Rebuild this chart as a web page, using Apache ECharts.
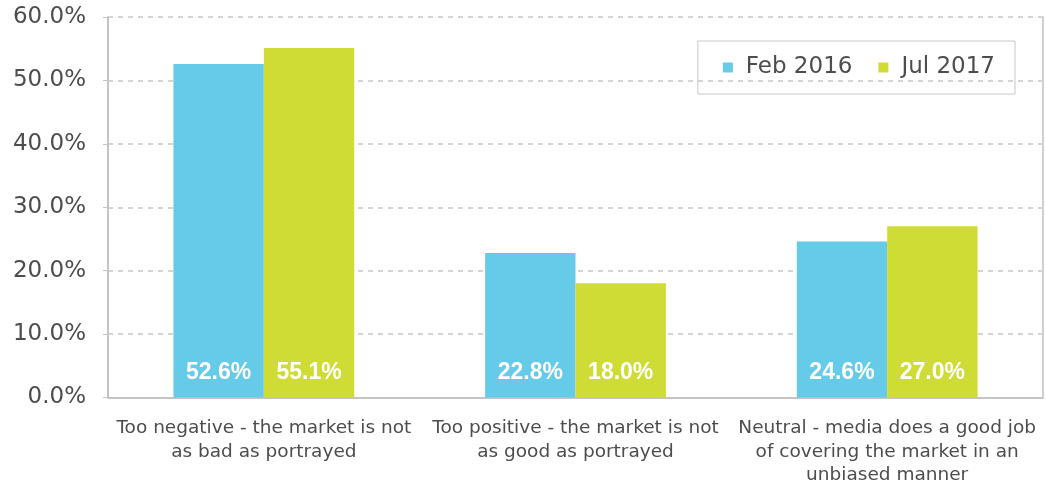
<!DOCTYPE html>
<html>
<head>
<meta charset="utf-8">
<script src="https://cdn.jsdelivr.net/npm/echarts@6/dist/echarts.min.js"></script>
<style>
  html, body { margin: 0; padding: 0; background: #fff; }
  #main { width: 1046px; height: 487px; }
</style>
</head>
<body>
<div id="main"></div>
<script>
// data
var categories = [
  'Too negative - the market is not\nas bad as portrayed',
  'Too positive - the market is not\nas good as portrayed',
  'Neutral - media does a good job\nof covering the market in an\nunbiased manner'
];
var feb2016 = [52.6, 22.8, 24.6];
var jul2017 = [55.1, 18.0, 27.0];
var seriesNames = ['Feb 2016', 'Jul 2017'];

var font = '"DejaVu Sans", sans-serif';
var textColor = '#4d4d4d';
var axisGray = '#c4c4c4';

var barLabel = {
  show: true,
  position: 'insideBottom',
  distance: 13,
  color: '#fff',
  fontFamily: 'Arial, "Liberation Sans", sans-serif',
  fontWeight: 'bold',
  fontSize: 23,
  formatter: function (p) { return p.value.toFixed(1) + '%'; }
};

var chart = echarts.init(document.getElementById('main'));
chart.setOption({
  animation: false,
  grid: { left: 108, right: 3, top: 17, bottom: 89 },
  legend: {
    right: 31, top: 41,
    padding: [15, 20, 15, 25],
    borderColor: '#c8c8c8', borderWidth: 1,
    itemWidth: 10, itemHeight: 10, itemGap: 26,
    icon: 'rect',
    textStyle: { fontFamily: font, fontSize: 23, color: textColor, padding: [0, 0, 0, 8] },
    data: seriesNames
  },
  xAxis: {
    type: 'category',
    data: categories,
    axisLine: { lineStyle: { color: axisGray, width: 2 } },
    axisTick: { length: 6, lineStyle: { color: axisGray } },
    axisLabel: {
      interval: 0, margin: 19,
      fontFamily: font, fontSize: 18.5, lineHeight: 23.5, color: textColor
    }
  },
  yAxis: [{
    type: 'value',
    min: 0, max: 60, interval: 10,
    axisLine: { show: true, lineStyle: { color: axisGray, width: 2 } },
    axisTick: { show: true, length: 5, lineStyle: { color: axisGray } },
    splitLine: { lineStyle: { color: '#c8c8c8', type: [5, 5], width: 1.5 } },
    axisLabel: {
      margin: 22,
      fontFamily: font, fontSize: 23, color: textColor,
      formatter: function (v) { return v.toFixed(1) + '%'; }
    }
  }, {
    type: 'value',
    position: 'right',
    min: 0, max: 60, interval: 10,
    axisLine: { show: true, lineStyle: { color: '#d0d0d0', width: 2 } },
    axisTick: { show: false },
    axisLabel: { show: false },
    splitLine: { show: false }
  }],
  series: [{
    name: seriesNames[0],
    type: 'bar',
    data: feb2016,
    barGap: '0%',
    barCategoryGap: '42%',
    itemStyle: { color: '#66cbe9' },
    label: barLabel
  }, {
    name: seriesNames[1],
    type: 'bar',
    data: jul2017,
    itemStyle: { color: '#cfdc35' },
    label: barLabel
  }]
});
</script>
</body>
</html>
